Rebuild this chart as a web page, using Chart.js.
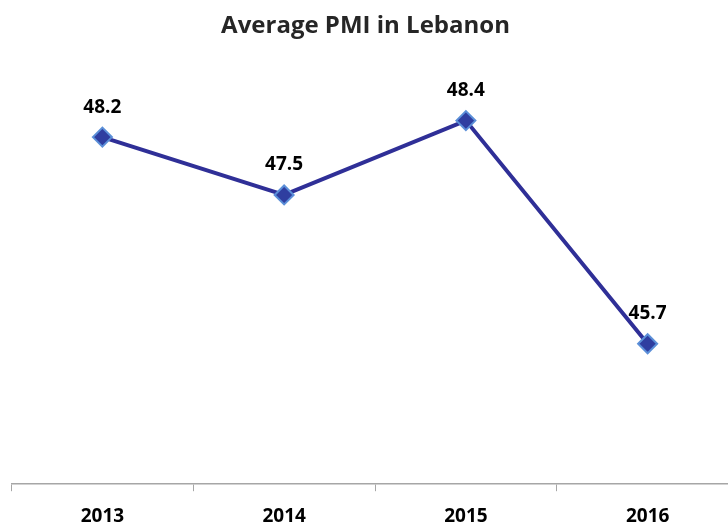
<!DOCTYPE html>
<html>
<head>
<meta charset="utf-8">
<script src="https://cdn.jsdelivr.net/npm/chart.js@4/dist/chart.umd.min.js"></script>
<style>
  html, body { margin: 0; padding: 0; background: #fff; overflow: hidden; }
  #clip { width: 728px; height: 523px; overflow: hidden; position: relative; }
  #wrap { width: 750px; height: 545px; position: absolute; left: 0; top: 0; }
</style>
</head>
<body>
<div id="clip"><div id="wrap"><canvas id="pmiChart"></canvas></div></div>
<script>
// dados
const years = ['2013', '2014', '2015', '2016'];
const pmiValues = [48.2, 47.5, 48.4, 45.7];
const chartTitle = 'Average PMI in Lebanon';

const FONT = "'Open Sans', 'DejaVu Sans', sans-serif";

// titulo centrado na parte visivel (a area do grafico passa da borda direita)
const titlePlugin = {
  id: 'centerTitle',
  afterDraw(chart) {
    const ctx = chart.ctx;
    ctx.save();
    ctx.font = `bold 24px ${FONT}`;
    ctx.fillStyle = '#262626';
    ctx.textAlign = 'center';
    ctx.textBaseline = 'middle';
    ctx.fillText(chartTitle, 365.5, 26);
    ctx.restore();
  }
};

// rotulos de valor acima dos pontos
const valueLabels = {
  id: 'valueLabels',
  afterDatasetsDraw(chart) {
    const ctx = chart.ctx;
    const meta = chart.getDatasetMeta(0);
    ctx.save();
    ctx.font = `bold 19px ${FONT}`;
    ctx.fillStyle = '#000';
    ctx.textAlign = 'center';
    ctx.textBaseline = 'middle';
    meta.data.forEach((pt, i) => {
      ctx.fillText(pmiValues[i].toFixed(1), pt.x, pt.y - 30);
    });
    ctx.restore();
  }
};

new Chart(document.getElementById('pmiChart'), {
  type: 'line',
  data: {
    labels: years,
    datasets: [{
      data: pmiValues,
      borderColor: '#2f2f97',
      borderWidth: 4,
      tension: 0,
      pointStyle: 'rectRot',
      pointRadius: 9.5,
      pointHoverRadius: 9.5,
      pointBackgroundColor: '#2f3ea0',
      pointBorderColor: '#5b8fd8',
      pointBorderWidth: 2,
      clip: false
    }]
  },
  options: {
    responsive: true,
    maintainAspectRatio: false,
    animation: false,
    layout: { padding: { top: 71, left: 11, right: 11, bottom: 3 } },
    plugins: {
      legend: { display: false },
      title: { display: false },
      tooltip: { enabled: false }
    },
    scales: {
      y: { display: false, min: 44, max: 49 },
      x: {
        offset: true,
        grid: {
          offset: true,
          drawOnChartArea: false,
          drawTicks: true,
          tickLength: 7,
          color: '#a6a6a6',
          lineWidth: 1
        },
        border: { color: '#a6a6a6', width: 1.5 },
        ticks: {
          color: '#000',
          padding: 14,
          font: { family: FONT, size: 19, weight: 'bold' }
        }
      }
    }
  },
  plugins: [titlePlugin, valueLabels]
});
</script>
</body>
</html>
